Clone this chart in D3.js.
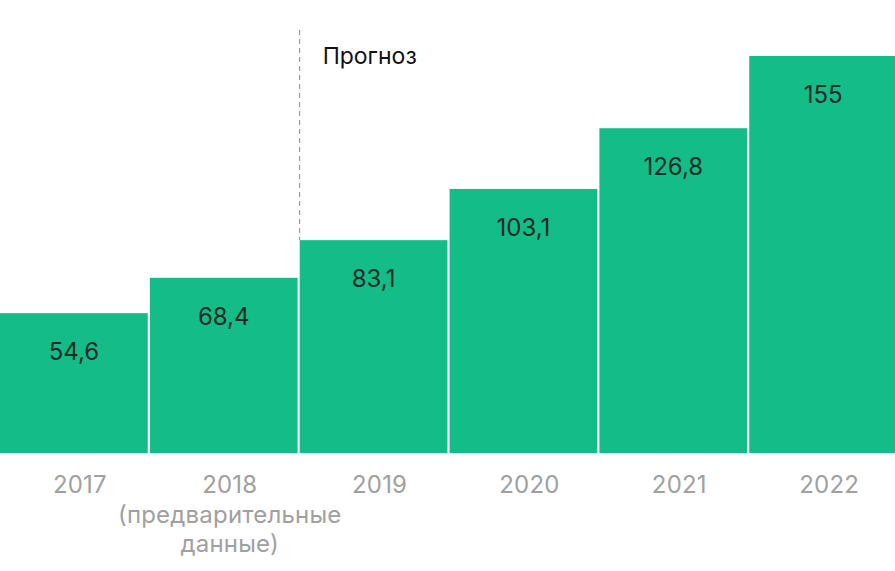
<!DOCTYPE html>
<html>
<head>
<meta charset="utf-8">
<script src="https://cdn.jsdelivr.net/npm/d3@7"></script>
<style>
  body { margin: 0; background: #fff; }
  text { font-family: Inter, Roboto, sans-serif; }
</style>
</head>
<body>
<div id="chart"></div>
<script>
const years = ["2017", "2018", "2019", "2020", "2021", "2022"];
const values = [54.6, 68.4, 83.1, 103.1, 126.8, 155];
const valueLabels = ["54,6", "68,4", "83,1", "103,1", "126,8", "155"];
const subLabels = {"2018": ["(предварительные", "данные)"]};
const forecastFrom = "2019";
const forecastLabel = "Прогноз";

const dims = {width: 895, height: 571, top: 56, bottom: 118};
const green = "#14bd87";

const svg = d3.select("#chart")
    .append("svg")
    .attr("width", dims.width)
    .attr("height", dims.height);

const x = d3.scaleBand()
    .domain(years)
    .range([0, 897])
    .paddingInner(0.014);

const y = d3.scaleLinear()
    .domain([0, d3.max(values)])
    .range([dims.height - dims.bottom, dims.top]);

const data = years.map((yr, i) => ({year: yr, value: values[i], label: valueLabels[i]}));

// bars
svg.append("g")
    .selectAll("rect")
    .data(data)
    .join("rect")
    .attr("x", d => x(d.year))
    .attr("y", d => y(d.value))
    .attr("width", x.bandwidth())
    .attr("height", d => y(0) - y(d.value))
    .attr("fill", green);

// value labels
svg.append("g")
    .selectAll("text")
    .data(data)
    .join("text")
    .attr("x", d => x(d.year) + x.bandwidth() / 2)
    .attr("y", d => y(d.value) + 47)
    .attr("text-anchor", "middle")
    .style("font-size", "24px")
    .style("fill", "#1a2a24")
    .text(d => d.label);

// x axis labels (sit a little right of the bar centres)
const axis = svg.append("g")
    .attr("transform", `translate(6,${y(0)})`)
    .call(d3.axisBottom(x).tickSize(0).tickPadding(0));
axis.select(".domain").remove();
axis.selectAll(".tick text")
    .attr("dy", null)
    .attr("y", 40)
    .style("font-size", "24px")
    .style("font-family", "Inter, Roboto, sans-serif")
    .style("letter-spacing", "0.2px")
    .style("fill", "#a0a0a0");

axis.selectAll(".tick")
    .filter(d => subLabels[d])
    .each(function(d) {
        const t = d3.select(this).select("text");
        subLabels[d].forEach((line, i) => {
            t.append("tspan")
                .attr("x", 0)
                .attr("dy", i == 0 ? 30 : 29)
                .text(line);
        });
    });

// forecast divider
const divX = x(forecastFrom) - x.step() * x.paddingInner() / 2 + 1;
svg.append("line")
    .attr("x1", divX)
    .attr("x2", divX)
    .attr("y1", 30)
    .attr("y2", y(values[years.indexOf(forecastFrom)]))
    .attr("stroke", "#8a8a8a")
    .attr("stroke-width", 1)
    .attr("stroke-dasharray", "5,4");

svg.append("text")
    .attr("x", divX + 23)
    .attr("y", 64)
    .style("font-size", "23px")
    .style("fill", "#111")
    .text(forecastLabel);
</script>
</body>
</html>
